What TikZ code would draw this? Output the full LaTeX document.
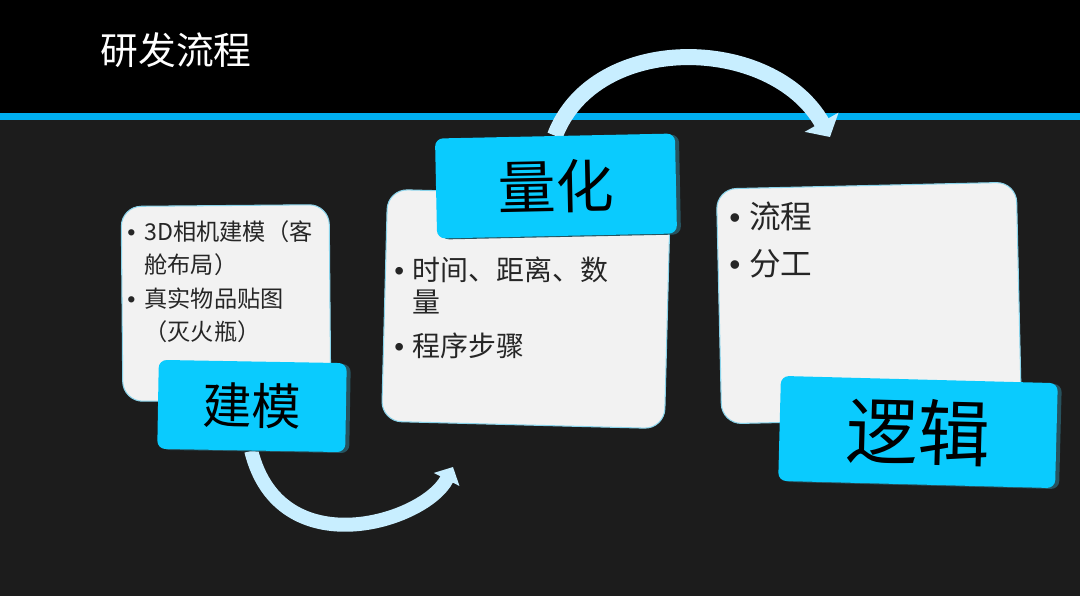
\documentclass[tikz,border=0pt]{standalone}
\usepackage{fontspec}
\setmainfont{Noto Sans CJK SC}
\newfontfamily\bulletfont{Liberation Sans}
\usetikzlibrary{shapes,arrows.meta,shadows}

\definecolor{topbar}{HTML}{000000}
\definecolor{rulebar}{HTML}{00AEEF}
\definecolor{stage}{HTML}{1C1C1C}
\definecolor{card}{HTML}{F2F2F2}
\definecolor{cardline}{HTML}{8AD3EA}
\definecolor{tag}{HTML}{0ACBFE}
\definecolor{tagside}{HTML}{27535F}
\definecolor{bend}{HTML}{C8EEFF}
\definecolor{ink}{HTML}{262626}

\pgfdeclarelayer{background}
\pgfsetlayers{background,main}

\tikzset{
    cardbox/.style={draw=cardline, line width=0.6pt, fill=card, rounded corners=0.4cm},
    tagbox/.style={fill=tag, rounded corners=0.16cm, text=black,
        drop shadow={shadow xshift=0.08cm, shadow yshift=-0.02cm, fill=tagside, opacity=1}},
    bulletlist/.style={anchor=north west, inner sep=0pt, align=left, text=ink},
    bendarrow/.style={draw=bend, line cap=butt}
}

\newcommand{\bul}[1]{\makebox[#1][l]{\bulletfont •}}

\begin{document}
\begin{tikzpicture}[x=0.02cm, y=-0.02cm]
    \useasboundingbox (0,0) rectangle (1080,596);

    % title
    \node (title) [text=white, font=\fontsize{21.5pt}{24pt}\selectfont] at (176,50) {研发流程};

    % cards with bullet text
    \node (card1) [cardbox, minimum width=4.16cm, minimum height=3.9cm, rotate=0.5] at (226,303) {};
    \node (text1) [bulletlist, font=\fontsize{13.2pt}{19.1pt}\selectfont] at (127,220)
        {\bul{0.74em}3D相机建模（客\\\hspace*{0.74em}舱布局）\\\bul{0.74em}真实物品贴图\\\hspace*{0.74em}（灭火瓶）};
    \node (tag1) [tagbox, minimum width=3.76cm, minimum height=1.78cm, rotate=-1,
        font=\fontsize{28pt}{30pt}\selectfont] at (252,406) {建模};

    \node (card2) [cardbox, minimum width=5.66cm, minimum height=4.64cm, rotate=-1.5] at (526,309) {};
    \node (text2) [bulletlist, font=\fontsize{15.9pt}{18.7pt}\selectfont] at (394,256)
        {\bul{0.65em}时间、距离、数\\\hspace*{0.65em}量\\[6.2pt]\bul{0.65em}程序步骤};
    \node (tag2) [tagbox, minimum width=4.8cm, minimum height=2.0cm, rotate=1.2,
        font=\fontsize{33pt}{35pt}\selectfont] at (556,186) {量化};

    \node (card3) [cardbox, minimum width=6.0cm, minimum height=4.7cm, rotate=1.3] at (869,303) {};
    \node (text3) [bulletlist, font=\fontsize{18pt}{26.6pt}\selectfont] at (729,202)
        {\bul{0.63em}流程\\\bul{0.63em}分工};
    \node (tag3) [tagbox, minimum width=5.54cm, minimum height=2.1cm, rotate=-1.5,
        font=\fontsize{41pt}{43pt}\selectfont] at (918,432) {逻辑};

    % arrow ends
    \coordinate (end1) at (453,467);
    \coordinate (end2) at (830,137);

    \begin{pgfonlayer}{background}
    % slide background
    \fill [topbar] (0,0) rectangle (1080,113);
    \fill [rulebar] (0,113) rectangle (1080,120);
    \fill [stage] (0,120) rectangle (1080,596);
    % curved arrows between the stages
    \draw [bendarrow, line width=0.28cm, -{Triangle[width=0.56cm, length=0.28cm]}]
        (tag1.south) .. controls (280,567) and (425,522) .. (end1);
    \draw [bendarrow, line width=0.32cm, -{Triangle[width=0.76cm, length=0.34cm]}]
        (tag2.north) .. controls (595,31) and (772,35) .. (end2);
    \end{pgfonlayer}
\end{tikzpicture}
\end{document}
